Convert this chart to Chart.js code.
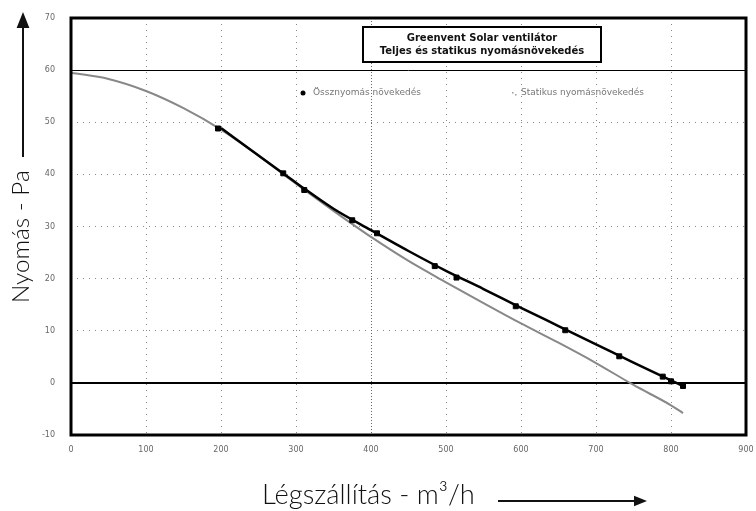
<!DOCTYPE html>
<html>
<head>
<meta charset="utf-8">
<script src="https://cdn.jsdelivr.net/npm/chart.js@4.4.1/dist/chart.umd.min.js"></script>
<style>
  html, body { margin: 0; padding: 0; background: #fff; }
  #wrap { width: 756px; height: 511px; }
</style>
</head>
<body>
<div id="wrap"><canvas id="myChart" width="756" height="511"></canvas></div>
<script>
"use strict";

// measured points - total pressure rise
const totalX = [196, 283, 311, 375, 408, 485, 514, 593, 659, 731, 789, 800, 816];
const totalY = [48.8, 40.2, 37.0, 31.2, 28.7, 22.4, 20.2, 14.7, 10.1, 5.1, 1.2, 0.3, -0.6];

// fitted curve through the total pressure points
const totalFitX = [200, 250, 300, 350, 400, 450, 500, 550, 600, 650, 700, 750, 800, 816];
const totalFitY = [48.9, 43.6, 38.4, 33.4, 29.3, 25.3, 21.5, 18.0, 14.4, 10.9, 7.4, 3.9, 0.5, -0.6];

// static pressure rise curve
const staticX = [0, 50, 100, 150, 200, 250, 300, 350, 400, 450, 500, 550, 600, 650, 700, 750, 800, 816];
const staticY = [59.5, 58.3, 56.0, 52.7, 48.6, 43.6, 38.2, 33.0, 28.0, 23.4, 19.3, 15.3, 11.4, 7.7, 3.8, -0.4, -4.3, -5.8];

// horizontal reference lines and tick labels
const refLines = [60, 0];
const xTicks = [0, 100, 200, 300, 400, 500, 600, 700, 800, 900];
const yTicks = [-10, 0, 10, 20, 30, 40, 50, 60, 70];

const chartTitle = ["Greenvent Solar ventilátor", "Teljes és statikus nyomásnövekedés"];
const seriesNames = ["Össznyomás növekedés", "Statikus nyomásnövekedés"];
const xTitle = "Légszállítás - m³/h";
const yTitle = "Nyomás - Pa";

function toPoints(xs, ys) {
  return xs.map((x, i) => ({ x: x, y: ys[i] }));
}

// pick a font size so the text fills the given width
function fitFont(ctx, text, width, family) {
  ctx.font = "300 20px " + family;
  const size = 20 * width / ctx.measureText(text).width;
  ctx.font = "300 " + size.toFixed(1) + "px " + family;
}

function arrow(ctx, x1, y1, x2, y2, head) {
  const a = Math.atan2(y2 - y1, x2 - x1);
  ctx.beginPath();
  ctx.moveTo(x1, y1);
  ctx.lineTo(x2 - Math.cos(a) * head, y2 - Math.sin(a) * head);
  ctx.stroke();
  ctx.beginPath();
  ctx.moveTo(x2, y2);
  ctx.lineTo(x2 - Math.cos(a) * head - Math.sin(a) * head * 0.4, y2 - Math.sin(a) * head + Math.cos(a) * head * 0.4);
  ctx.lineTo(x2 - Math.cos(a) * head + Math.sin(a) * head * 0.4, y2 - Math.sin(a) * head - Math.cos(a) * head * 0.4);
  ctx.closePath();
  ctx.fill();
}

// reference lines under the curves
const refLinePlugin = {
  id: "refLines",
  beforeDatasetsDraw(chart) {
    const { ctx, chartArea: a, scales } = chart;
    ctx.save();
    // denser dotted line at 400
    ctx.strokeStyle = "#666";
    ctx.lineWidth = 1;
    ctx.setLineDash([1, 2]);
    const x4 = Math.round(scales.x.getPixelForValue(400)) + 0.5;
    ctx.beginPath();
    ctx.moveTo(x4, a.top);
    ctx.lineTo(x4, a.bottom);
    ctx.stroke();
    ctx.setLineDash([]);
    refLines.forEach((v) => {
      const thick = v === 0;
      let y = Math.round(scales.y.getPixelForValue(v));
      if (!thick) y += 0.5;
      ctx.strokeStyle = "#000";
      ctx.lineWidth = thick ? 2 : 1;
      ctx.beginPath();
      ctx.moveTo(a.left, y);
      ctx.lineTo(a.right, y);
      ctx.stroke();
    });
    ctx.restore();
  },
};

// frame, title box, legend and axis titles with arrows
const decorPlugin = {
  id: "decor",
  afterDraw(chart) {
    const { ctx, chartArea: a } = chart;
    ctx.save();
    ctx.strokeStyle = "#000";
    ctx.lineWidth = 3;
    ctx.strokeRect(a.left, a.top, a.right - a.left, a.bottom - a.top);

    // title box
    const bx = 363, by = 27, bw = 238, bh = 35;
    ctx.fillStyle = "#fff";
    ctx.fillRect(bx, by, bw, bh);
    ctx.lineWidth = 2;
    ctx.strokeRect(bx, by, bw, bh);
    ctx.fillStyle = "#111";
    ctx.font = "bold 10px 'DejaVu Sans'";
    ctx.textAlign = "center";
    ctx.textBaseline = "middle";
    ctx.fillText(chartTitle[0], bx + bw / 2, by + 11);
    ctx.fillText(chartTitle[1], bx + bw / 2, by + 24);

    // legend
    ctx.font = "9px 'DejaVu Sans'";
    ctx.textAlign = "left";
    ctx.fillStyle = "#000";
    ctx.beginPath();
    ctx.arc(303, 93, 2.5, 0, Math.PI * 2);
    ctx.fill();
    ctx.fillStyle = "#777";
    ctx.fillText(seriesNames[0], 313, 93);
    ctx.fillStyle = "#999";
    ctx.fillRect(512, 92, 1.5, 1.5);
    ctx.fillRect(515, 94, 1.5, 1.5);
    ctx.fillStyle = "#777";
    ctx.fillText(seriesNames[1], 521, 93);

    // x axis title
    ctx.fillStyle = "#111";
    ctx.strokeStyle = "#111";
    ctx.textAlign = "left";
    ctx.textBaseline = "alphabetic";
    fitFont(ctx, xTitle, 213, "Lato, 'Noto Sans'");
    ctx.fillText(xTitle, 262, 504);
    ctx.lineWidth = 2;
    arrow(ctx, 498, 501, 647, 501, 13);

    // y axis title
    ctx.save();
    ctx.translate(29, 303);
    ctx.rotate(-Math.PI / 2);
    fitFont(ctx, yTitle, 133, "Lato, 'Noto Sans'");
    ctx.fillText(yTitle, 0, 0);
    ctx.restore();
    ctx.lineWidth = 2;
    arrow(ctx, 23, 157, 23, 12, 16);
    ctx.restore();
  },
};

const ctx = document.getElementById("myChart").getContext("2d");
const myChart = new Chart(ctx, {
  type: "scatter",
  data: {
    datasets: [
      {
        label: seriesNames[1],
        data: toPoints(staticX, staticY),
        showLine: true,
        borderColor: "#888",
        borderWidth: 2,
        pointRadius: 0,
        cubicInterpolationMode: "monotone",
        order: 3,
      },
      {
        label: seriesNames[0] + " (fit)",
        data: toPoints(totalFitX, totalFitY),
        showLine: true,
        borderColor: "#000",
        borderWidth: 2.5,
        pointRadius: 0,
        cubicInterpolationMode: "monotone",
        order: 2,
      },
      {
        label: seriesNames[0],
        data: toPoints(totalX, totalY),
        showLine: false,
        pointStyle: "rect",
        pointRadius: 3.5,
        backgroundColor: "#000",
        borderColor: "#000",
        order: 1,
      },
    ],
  },
  options: {
    responsive: false,
    animation: false,
    layout: { padding: { left: 0, right: 10, top: 18, bottom: 0 } },
    plugins: {
      legend: { display: false },
      tooltip: { enabled: false },
    },
    scales: {
      x: {
        type: "linear",
        min: 0,
        max: 900,
        afterFit: (s) => { s.height = 76; s.paddingRight = 0; s.paddingLeft = 0; },
        afterBuildTicks: (s) => { s.ticks = xTicks.map((v) => ({ value: v })); },
        ticks: { font: { size: 8, family: "DejaVu Sans" }, color: "#666", padding: 10 },
        grid: { color: "#888", lineWidth: 1, drawTicks: false },
        border: { display: false, dash: [1, 5] },
      },
      y: {
        type: "linear",
        min: -10,
        max: 70,
        afterFit: (s) => { s.width = 71; s.paddingTop = 0; s.paddingBottom = 0; },
        afterBuildTicks: (s) => { s.ticks = yTicks.map((v) => ({ value: v })); },
        ticks: { font: { size: 8, family: "DejaVu Sans" }, color: "#666", padding: 16 },
        grid: { color: "#888", lineWidth: 1, drawTicks: false },
        border: { display: false, dash: [1, 5] },
      },
    },
  },
  plugins: [refLinePlugin, decorPlugin],
});
</script>
</body>
</html>
